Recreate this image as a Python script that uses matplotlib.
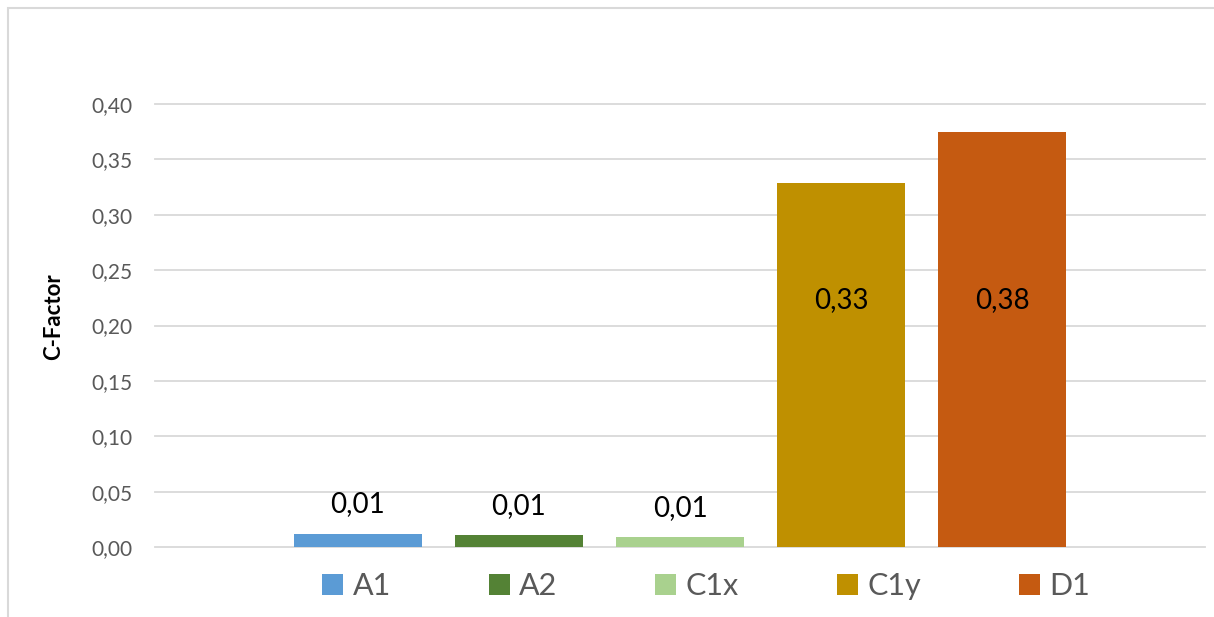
import matplotlib.pyplot as plt
from matplotlib.patches import Rectangle, Patch

# C-Factor per class
categories = ['A1', 'A2', 'C1x', 'C1y', 'D1']
c_factor = [0.012, 0.011, 0.009, 0.329, 0.375]
colors = ['#5B9BD5', '#548235', '#A9D18E', '#BF9000', '#C55A11']
yticks = [0.00, 0.05, 0.10, 0.15, 0.20, 0.25, 0.30, 0.35, 0.40]

plt.rcParams['font.family'] = ['Lato', 'DejaVu Sans']

fig = plt.figure(figsize=(12.14, 6.17), dpi=100)
ax = fig.add_axes([155 / 1214, 1 - 547 / 617, 1050 / 1214, 443 / 617])

x = range(len(categories))
ax.bar(x, c_factor, width=0.795, color=colors, zorder=3)

# value labels: small bars get the label above, tall ones inside
for xi, v in zip(x, c_factor):
    txt = ('%.2f' % v).replace('.', ',')
    if v > 0.1:
        ax.text(xi, 0.223, txt, ha='center', va='center', fontsize=20,
                color='black', zorder=4)
    else:
        ax.annotate(txt, (xi, v), xytext=(0, 21), textcoords='offset points',
                    ha='center', va='center', fontsize=20, color='black')

ax.set_xlim(-1.26, 5.26)
ax.set_ylim(0, 0.40)
ax.set_xticks([])
ax.set_yticks(yticks)
ax.set_yticklabels([('%.2f' % t).replace('.', ',') for t in yticks])
ax.tick_params(axis='y', length=0, pad=16.5, labelsize=15, labelcolor='#595959')
ax.grid(axis='y', color='#d9d9d9', linewidth=1.3, zorder=0)
for s in ax.spines.values():
    s.set_visible(False)
for line in ax.get_ygridlines():
    line.set_clip_on(False)

ax.set_ylabel('C-Factor', fontsize=16, fontweight='bold', color='black',
              va='center')
ax.yaxis.set_label_coords(-0.097, 0.519)

handles = [Patch(facecolor=c, edgecolor='none') for c in colors]
fig.legend(handles, categories, loc='center', bbox_to_anchor=(706 / 1214, 1 - 586 / 617),
           ncol=5, frameon=False, fontsize=22, labelcolor='#595959',
           handlelength=0.7, handleheight=0.7, handletextpad=0.3,
           columnspacing=3.2)

# outer chart border
fig.patches.append(Rectangle((8 / 1214, -0.1), 1.2, 1.1 - 8 / 617,
                             transform=fig.transFigure, fill=False,
                             edgecolor='#d9d9d9', linewidth=1.5))

fig.savefig('out.png', dpi=100)
